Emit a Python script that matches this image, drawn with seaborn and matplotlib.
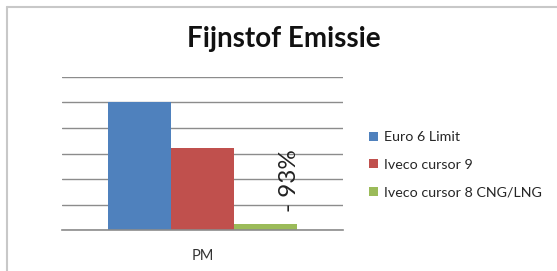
import seaborn as sns
import matplotlib.pyplot as plt
import pandas as pd
from matplotlib.patches import Patch
from matplotlib.lines import Line2D

# chart data
categories = ["PM"]
series = ["Euro 6 Limit", "Iveco cursor 9", "Iveco cursor 8 CNG/LNG"]
values = [5.0, 3.2, 0.22]
colors = ["#4F81BD", "#C0504D", "#9BBB59"]
reduction_label = "- 93%"

df = pd.DataFrame({
    "pollutant": categories * len(series),
    "series": series,
    "value": values,
})

sns.set_style("white")
plt.rcParams["font.family"] = ["Lato", "DejaVu Sans"]

fig = plt.figure(figsize=(5.57, 2.71), dpi=100)
ax = fig.add_axes([62 / 557, 41 / 271, 281 / 557, 153 / 271])

sns.barplot(data=df, x="pollutant", y="value", hue="series", palette=colors,
            width=0.67, saturation=1, linewidth=0, ax=ax, legend=False)

ax.set_xlim(-0.5, 0.5)
ax.set_ylim(0, 6)
ax.set_yticks(range(0, 7))
ax.set_yticklabels([])
ax.tick_params(axis="y", length=0)
ax.grid(axis="y", color="#8c8c8c", linewidth=1)
ax.set_axisbelow(True)
for side in ["left", "top", "right"]:
    ax.spines[side].set_visible(False)
ax.spines["bottom"].set_color("#8c8c8c")
ax.spines["bottom"].set_linewidth(1.2)

ax.set_xlabel("")
ax.set_ylabel("")
ax.tick_params(axis="x", which="major", length=0, pad=14, labelsize=10.5, labelcolor="#333333")
ax.set_xticks([-0.5, 0.5], minor=True)
ax.tick_params(axis="x", which="minor", length=4, color="#8c8c8c", width=1.2)

# reduction annotation next to the green bar
ax.text(0.311, 1.95, reduction_label, rotation=90, ha="center", va="center",
        fontsize=17.5, color="#222222")

# title
fig.text(284 / 557, 1 - 39 / 271, "Fijnstof Emissie", ha="center", va="center",
         fontsize=20, fontweight="bold", color="#111111")

handles = [Patch(facecolor=c, edgecolor="none") for c in colors]
fig.legend(handles, series, loc="center left", bbox_to_anchor=(369 / 557, 1 - 165 / 271),
           frameon=False, fontsize=10.3, handlelength=0.6, handleheight=0.6,
           handletextpad=0.45, labelspacing=1.1, borderpad=0, borderaxespad=0)

# chart frame (top and left edges visible)
fig.add_artist(Line2D([7 / 557, 1], [1 - 6.5 / 271, 1 - 6.5 / 271], color="#c8c8c8", linewidth=1.5))
fig.add_artist(Line2D([7 / 557, 7 / 557], [0, 1 - 6.5 / 271], color="#c8c8c8", linewidth=1.5))

fig.savefig("out.png", dpi=100)
